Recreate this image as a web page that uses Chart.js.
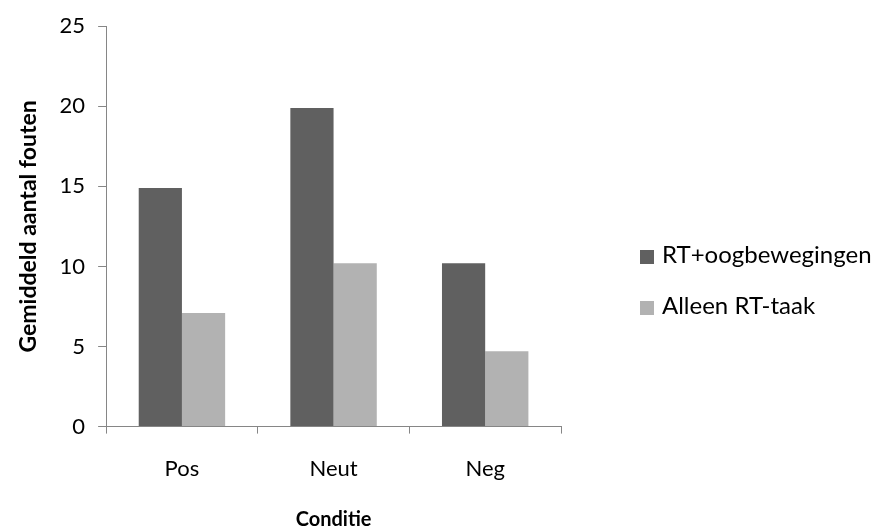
<!DOCTYPE html>
<html>
<head>
<meta charset="utf-8">
<script src="https://cdn.jsdelivr.net/npm/chart.js@4.4.0/dist/chart.umd.min.js"></script>
<style>
  body { margin: 0; background: #fff; }
  #wrap { position: relative; width: 875px; height: 530px; }
  #legend { position: absolute; left: 640px; top: 241px; font-family: Lato, sans-serif; font-size: 24px; color: #000; }
  .item { display: flex; align-items: flex-start; height: 26px; line-height: 26px; margin-bottom: 25px; white-space: nowrap; }
  .box { width: 14px; height: 14px; margin-top: 9px; margin-right: 8px; }
</style>
</head>
<body>
<div id="wrap">
  <canvas id="chart"></canvas>
  <div id="legend"></div>
</div>
<script>
// --- gegevens ---
const categories = ['Pos', 'Neut', 'Neg'];
const seriesNames = ['RT+oogbewegingen', 'Alleen RT-taak'];
const rtOogbewegingen = [14.9, 19.9, 10.2];
const alleenRtTaak = [7.1, 10.2, 4.7];
const yMin = 0, yMax = 25, yStep = 5;

const colors = ['#606060', '#b2b2b2'];
const axisGray = '#868686';
const font = 'Lato, sans-serif';

const chart = new Chart(document.getElementById('chart'), {
  type: 'bar',
  data: {
    labels: categories,
    datasets: [
      { label: seriesNames[0], data: rtOogbewegingen, backgroundColor: colors[0] },
      { label: seriesNames[1], data: alleenRtTaak, backgroundColor: colors[1] }
    ]
  },
  options: {
    responsive: true,
    maintainAspectRatio: false,
    animation: false,
    datasets: { bar: { categoryPercentage: 0.57, barPercentage: 1.0 } },
    layout: { padding: { left: 15, top: 23, right: 314, bottom: 0 } },
    plugins: { legend: { display: false }, tooltip: { enabled: false } },
    scales: {
      x: {
        grid: { display: true, offset: true, drawOnChartArea: false, tickLength: 7, color: axisGray },
        border: { color: axisGray },
        ticks: { color: '#000', padding: 22, font: { family: font, size: 22 } },
        title: { display: true, text: 'Conditie', color: '#000', padding: { top: 6, bottom: 0 }, font: { family: font, size: 20, weight: 'bold', lineHeight: 1.0 } }
      },
      y: {
        min: yMin, max: yMax,
        grid: { display: true, drawOnChartArea: false, tickLength: 8, color: axisGray },
        border: { color: axisGray },
        ticks: { stepSize: yStep, color: '#000', padding: 13, font: { family: font, size: 22 } },
        title: { display: true, text: 'Gemiddeld aantal fouten', color: '#000', padding: { top: 0, bottom: 4 }, font: { family: font, size: 23, weight: 'bold' } }
      }
    }
  }
});

// legenda rechts, opgebouwd uit de datasets
const legend = document.getElementById('legend');
chart.data.datasets.forEach(ds => {
  const row = document.createElement('div');
  row.className = 'item';
  const box = document.createElement('span');
  box.className = 'box';
  box.style.background = ds.backgroundColor;
  const txt = document.createElement('span');
  txt.textContent = ds.label;
  row.appendChild(box);
  row.appendChild(txt);
  legend.appendChild(row);
});
</script>
</body>
</html>
